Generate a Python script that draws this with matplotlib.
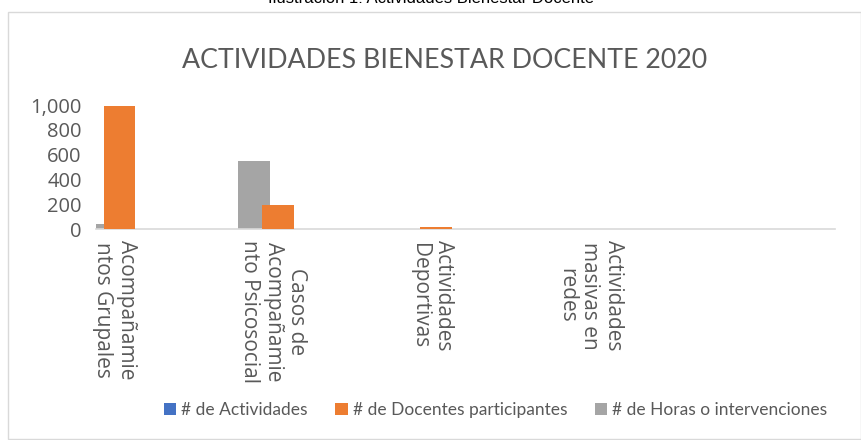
import numpy as np
import matplotlib.pyplot as plt
from matplotlib.patches import Rectangle
from matplotlib.ticker import FuncFormatter

# data
categories = ["Acompañamie\nntos Grupales",
              "Casos de\nAcompañamie\nnto Psicosocial",
              "Actividades\nDeportivas",
              "Actividades\nmasivas en\nredes"]
actividades = [0, 0, 0, 0]
docentes = [990, 198, 15, 0]
horas = [40, 553, 3, 3]

series_names = ["# de Actividades", "# de Docentes participantes", "# de Horas o intervenciones"]
colors = ["#4472C4", "#ED7D31", "#A5A5A5"]
txt = "#595959"

fig = plt.figure(figsize=(8.62, 4.4), dpi=100)

# chart border like the excel chart area
fig.patches.append(Rectangle((0.009, 0.002), 0.99, 0.97, transform=fig.transFigure,
                             fill=False, edgecolor="#D9D9D9", linewidth=1))

# caption cut off at the top of the picture
fig.text(0.5, 1.003, "Ilustración 1: Actividades Bienestar Docente", ha="center", va="center",
         fontsize=12, family="Liberation Sans", color="black")

ax = fig.add_axes([0.111, 0.479, 0.858, 0.282])

x = np.arange(len(categories))
w = 0.2
ax.bar(x - 0.12, horas, width=w, color=colors[2], label=series_names[2], zorder=2)
ax.bar(x + 0.03, docentes, width=w, color=colors[1], label=series_names[1], zorder=3)
ax.bar(x, actividades, width=w, color=colors[0], label=series_names[0], zorder=1)

ax.set_xlim(-0.12, 4.55)
ax.set_ylim(0, 1000)
ax.set_yticks(range(0, 1001, 200))
ax.yaxis.set_major_formatter(FuncFormatter(lambda v, p: f"{int(v):,}"))

ax.set_xticks(x)
ax.set_xticklabels(categories, rotation=-90, va="top", ha="center",
                   multialignment="center", fontsize=15, family="Open Sans", color=txt,
                   linespacing=1.15)
ax.tick_params(axis="y", labelsize=14.5, colors=txt, length=0, pad=10)
ax.tick_params(axis="x", length=0, pad=8)
for lab in ax.get_yticklabels():
    lab.set_family("Open Sans")

for s in ["top", "right", "left"]:
    ax.spines[s].set_visible(False)
ax.spines["bottom"].set_color("#D9D9D9")
ax.spines["bottom"].set_linewidth(1.2)

fig.text(0.516, 0.862, "ACTIVIDADES BIENESTAR DOCENTE 2020", ha="center", va="center",
         fontsize=19.3, family="Lato", color=txt)

handles, labels = ax.get_legend_handles_labels()
order = [2, 1, 0]
leg = fig.legend([handles[i] for i in order], [labels[i] for i in order],
                 loc="center", bbox_to_anchor=(0.575, 0.068), ncol=3, frameon=False,
                 prop={"family": "Lato", "size": 12.5}, handlelength=0.7, handleheight=0.7,
                 handletextpad=0.3, columnspacing=1.6)
for t in leg.get_texts():
    t.set_color(txt)

fig.savefig("out.png", dpi=100)
